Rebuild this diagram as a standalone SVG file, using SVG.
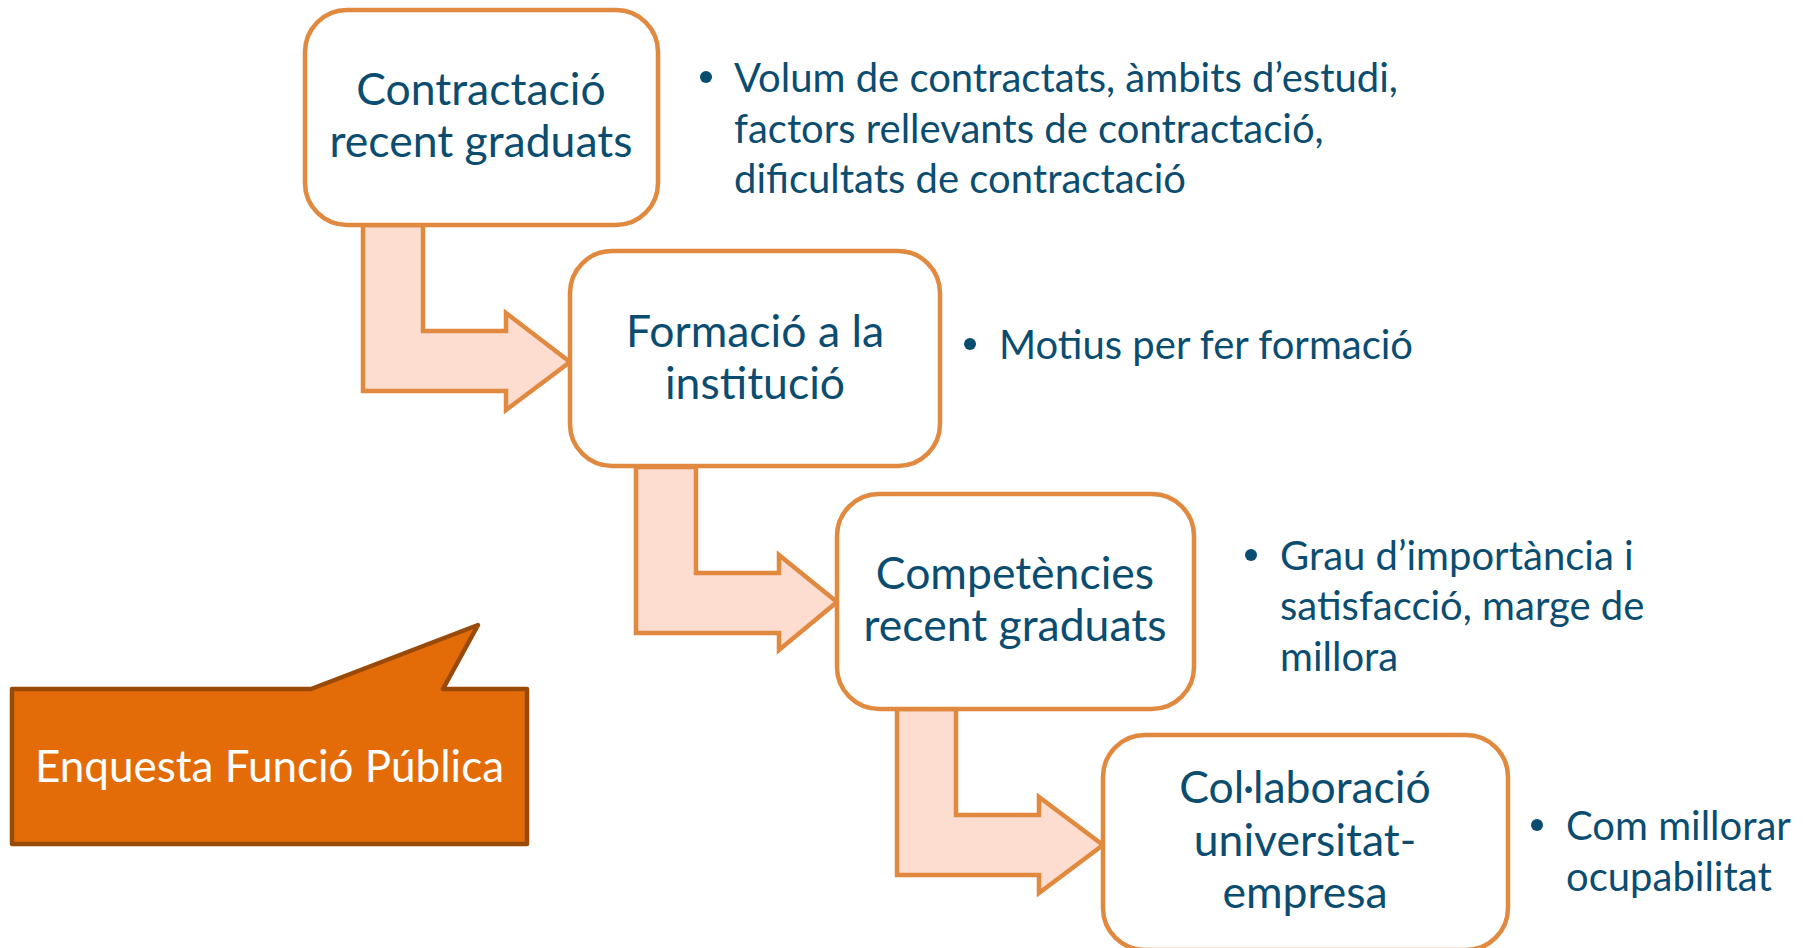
<svg xmlns="http://www.w3.org/2000/svg" width="1805" height="948" viewBox="0 0 1805 948">
<style>
.box{fill:#ffffff;stroke:#E0893F;stroke-width:4.5}
.arr{fill:#FCDDD0;stroke:#E0893F;stroke-width:4.5;stroke-linejoin:miter}
.nt{font-family:Lato,"Open Sans",sans-serif;font-size:44.5px;fill:#0B4D70;text-anchor:middle}
.bt{font-family:Lato,"Open Sans",sans-serif;font-size:40px;fill:#0B4D70}
.dot{fill:#0B4D70}
.call{fill:#E36C09;stroke:#9A4A08;stroke-width:4.5;stroke-linejoin:round}
.ct{font-family:Lato,"Open Sans",sans-serif;font-size:44px;fill:#ffffff}
</style>
<rect width="1805" height="948" fill="#ffffff"/>
<g id="connectors">
<path class="arr" d="M363,225 L423,225 L423,331 L506,331 L506,313 L570,362 L506,410 L506,391 L363,391 Z"/>
<path class="arr" d="M636,467 L696,467 L696,573 L779,573 L779,555 L837,602 L779,650 L779,633 L636,633 Z"/>
<path class="arr" d="M897,709 L956,709 L956,815 L1039,815 L1039,797 L1103,845 L1039,893 L1039,875 L897,875 Z"/>
</g>
<g id="node1">
<rect class="box" x="305" y="10" width="353" height="215" rx="42"/>
<text class="nt" x="481" y="105">Contractació</text>
<text class="nt" x="481" y="157">recent graduats</text>
</g>
<g id="node2">
<rect class="box" x="570" y="251" width="370" height="215" rx="42"/>
<text class="nt" x="755" y="347">Formació a la</text>
<text class="nt" x="755" y="399">institució</text>
</g>
<g id="node3">
<rect class="box" x="837" y="494" width="357" height="215" rx="42"/>
<text class="nt" x="1015" y="589">Competències</text>
<text class="nt" x="1015" y="641">recent graduats</text>
</g>
<g id="node4">
<rect class="box" x="1103" y="735" width="405" height="215" rx="42"/>
<text class="nt" x="1305" y="803">Col·laboració</text>
<text class="nt" x="1305" y="856">universitat-</text>
<text class="nt" x="1305" y="908">empresa</text>
</g>
<g id="bullets1">
<circle class="dot" cx="706" cy="77" r="6"/>
<text class="bt" x="734" y="92">Volum de contractats, àmbits d’estudi,</text>
<text class="bt" x="734" y="143">factors rellevants de contractació,</text>
<text class="bt" x="734" y="193">dificultats de contractació</text>
</g>
<g id="bullets2">
<circle class="dot" cx="970" cy="344" r="6"/>
<text class="bt" x="999" y="359">Motius per fer formació</text>
</g>
<g id="bullets3">
<circle class="dot" cx="1251" cy="555" r="6"/>
<text class="bt" x="1280" y="570">Grau d’importància i</text>
<text class="bt" x="1280" y="620">satisfacció, marge de</text>
<text class="bt" x="1280" y="671">millora</text>
</g>
<g id="bullets4">
<circle class="dot" cx="1537" cy="825" r="6"/>
<text class="bt" x="1566" y="840">Com millorar</text>
<text class="bt" x="1566" y="891">ocupabilitat</text>
</g>
<g id="callout">
<path class="call" d="M12,689 L311,689 L478,625 L443,689 L527,689 L527,844 L12,844 Z"/>
<text class="ct" x="35" y="782">Enquesta Funció Pública</text>
</g>
</svg>
